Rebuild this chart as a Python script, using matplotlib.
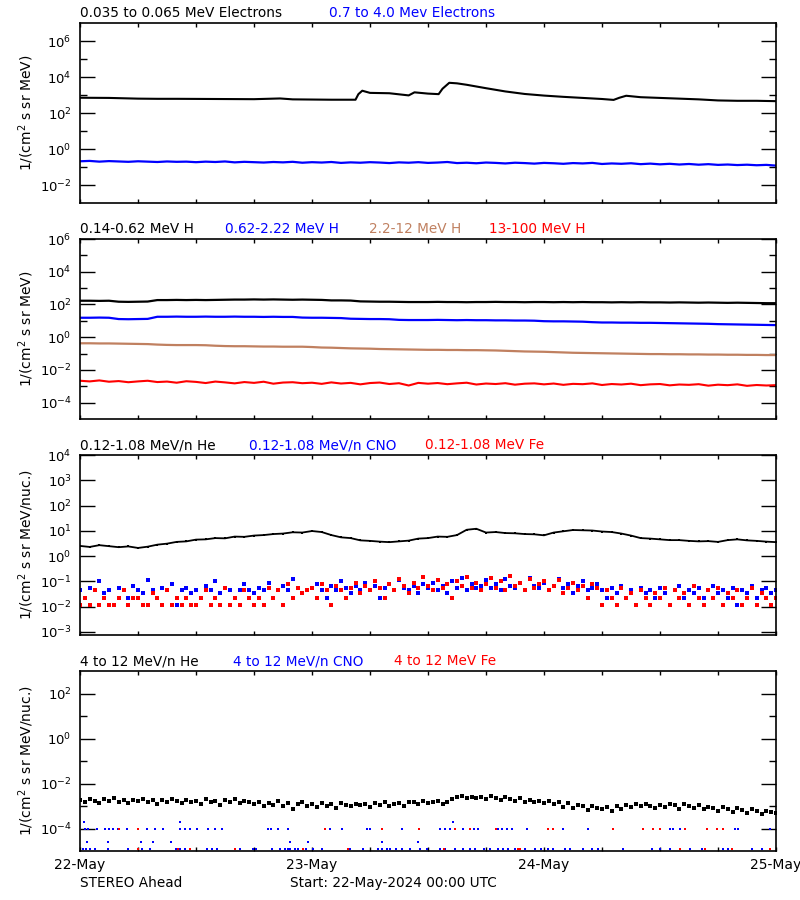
"""STEREO Ahead particle flux summary, 22-25 May 2024 (recreated)."""

import matplotlib
matplotlib.use("Agg")
import matplotlib.pyplot as plt
import numpy as np
from matplotlib.ticker import FixedLocator, NullFormatter, LogFormatterMathtext

plt.rcParams["font.family"] = ["DejaVu Sans"]
plt.rcParams["mathtext.default"] = "regular"

TAN = "#C08060"

# --- time axes (hours since 22-May 00:00 UTC) ---
hours = np.arange(0, 73)             # hourly samples
half_hours = np.arange(0, 72.5, 0.5)  # 30-minute samples
day_ticks = [0, 24, 48, 72]
day_labels = ["22-May", "23-May", "24-May", "25-May"]

# === Panel 1: electrons (log10 flux) ===
e_lo_hours = [0, 3, 6, 8, 10, 14, 18, 20.7, 22, 26, 28.5, 28.8, 29.2, 30, 32, 34,
              34.6, 35.2, 36, 37.1, 37.5, 38.2, 39, 40, 42, 44, 46, 48, 50, 52, 54,
              55.2, 55.8, 56.5, 58, 60, 62, 64, 66, 68, 70, 72]
e_lo_log = [2.85, 2.84, 2.80, 2.79, 2.79, 2.78, 2.77, 2.81, 2.76, 2.74, 2.74, 3.05,
            3.24, 3.12, 3.10, 2.98, 3.15, 3.12, 3.08, 3.05, 3.35, 3.68, 3.65, 3.57,
            3.38, 3.20, 3.06, 2.97, 2.90, 2.84, 2.78, 2.73, 2.85, 2.96, 2.88, 2.84,
            2.80, 2.76, 2.70, 2.68, 2.68, 2.66]
e_hi_log = [-0.68, -0.66, -0.70, -0.67, -0.69, -0.71, -0.68, -0.70, -0.72, -0.69, -0.71, -0.70,
            -0.73, -0.70, -0.72, -0.69, -0.74, -0.71, -0.73, -0.75, -0.72, -0.74, -0.71, -0.76,
            -0.73, -0.75, -0.72, -0.77, -0.74, -0.76, -0.73, -0.75, -0.78, -0.74, -0.76, -0.73,
            -0.77, -0.75, -0.72, -0.78, -0.76, -0.79, -0.75, -0.77, -0.80, -0.76, -0.78, -0.81,
            -0.77, -0.79, -0.82, -0.78, -0.80, -0.77, -0.83, -0.80, -0.82, -0.79, -0.84, -0.81,
            -0.85, -0.82, -0.86, -0.83, -0.87, -0.84, -0.88, -0.86, -0.89, -0.87, -0.90, -0.88,
            -0.92]

# === Panel 2: protons (log10 flux, hourly) ===
h1_log = [2.23, 2.23, 2.22, 2.23, 2.17, 2.16, 2.17, 2.18, 2.27, 2.27, 2.28, 2.27,
          2.28, 2.27, 2.28, 2.29, 2.30, 2.30, 2.31, 2.30, 2.31, 2.30, 2.29, 2.30,
          2.29, 2.28, 2.25, 2.25, 2.24, 2.19, 2.18, 2.17, 2.17, 2.16, 2.15, 2.15,
          2.15, 2.16, 2.15, 2.15, 2.14, 2.15, 2.15, 2.16, 2.15, 2.15, 2.14, 2.15,
          2.15, 2.14, 2.15, 2.14, 2.15, 2.14, 2.14, 2.13, 2.14, 2.13, 2.14, 2.13,
          2.13, 2.12, 2.13, 2.12, 2.11, 2.12, 2.11, 2.10, 2.11, 2.10, 2.09, 2.08,
          2.08]
h2_log = [1.19, 1.19, 1.20, 1.19, 1.11, 1.10, 1.11, 1.12, 1.25, 1.25, 1.26, 1.25,
          1.25, 1.26, 1.25, 1.25, 1.26, 1.25, 1.25, 1.24, 1.25, 1.24, 1.24, 1.20,
          1.19, 1.19, 1.18, 1.17, 1.13, 1.12, 1.11, 1.11, 1.10, 1.06, 1.05, 1.05,
          1.05, 1.06, 1.05, 1.04, 1.05, 1.04, 1.04, 1.03, 1.03, 1.02, 1.02, 1.01,
          0.98, 0.97, 0.97, 0.96, 0.95, 0.92, 0.90, 0.90, 0.89, 0.89, 0.88, 0.88,
          0.87, 0.86, 0.85, 0.84, 0.83, 0.82, 0.80, 0.79, 0.78, 0.77, 0.76, 0.75,
          0.74]
h3_log = [-0.37, -0.37, -0.38, -0.38, -0.39, -0.40, -0.41, -0.42, -0.45, -0.47, -0.48, -0.48,
          -0.48, -0.49, -0.52, -0.54, -0.55, -0.55, -0.56, -0.57, -0.57, -0.58, -0.58, -0.58,
          -0.60, -0.63, -0.64, -0.66, -0.68, -0.69, -0.70, -0.72, -0.73, -0.74, -0.75, -0.76,
          -0.77, -0.77, -0.78, -0.78, -0.79, -0.79, -0.80, -0.81, -0.83, -0.85, -0.87, -0.88,
          -0.89, -0.91, -0.93, -0.95, -0.96, -0.97, -0.98, -0.99, -1.00, -1.01, -1.02, -1.03,
          -1.03, -1.04, -1.04, -1.05, -1.05, -1.06, -1.06, -1.07, -1.07, -1.08, -1.08, -1.09,
          -1.09]
h4_log = [-2.66, -2.70, -2.64, -2.72, -2.68, -2.75, -2.70, -2.66, -2.74, -2.71, -2.78, -2.69,
          -2.73, -2.80, -2.71, -2.76, -2.82, -2.74, -2.79, -2.72, -2.84, -2.77, -2.75, -2.81,
          -2.78, -2.85, -2.76, -2.83, -2.79, -2.88, -2.80, -2.77, -2.86, -2.81, -2.95, -2.79,
          -2.84, -2.80, -2.87, -2.82, -2.78, -2.89, -2.83, -2.86, -2.81, -2.90, -2.84, -2.82,
          -2.88, -2.83, -2.91, -2.85, -2.87, -2.82, -2.92, -2.86, -2.89, -2.84, -2.93, -2.88,
          -2.86, -2.94, -2.89, -2.91, -2.87, -2.96, -2.90, -2.93, -2.88, -2.97, -2.92, -2.95,
          -2.93]

# === Panel 3: 0.12-1.08 MeV/n heavy ions ===
he_lo_log = [0.40, 0.36, 0.43, 0.39, 0.35, 0.38, 0.32, 0.37, 0.45, 0.49, 0.56, 0.58,
             0.65, 0.66, 0.71, 0.70, 0.77, 0.76, 0.81, 0.83, 0.87, 0.89, 0.94, 0.93,
             0.99, 0.95, 0.83, 0.74, 0.71, 0.62, 0.60, 0.57, 0.55, 0.58, 0.61, 0.69,
             0.71, 0.77, 0.76, 0.83, 1.04, 1.08, 0.93, 0.95, 0.91, 0.90, 0.87, 0.86,
             0.82, 0.93, 0.98, 1.03, 1.02, 1.01, 0.97, 0.95, 0.89, 0.81, 0.71, 0.69,
             0.66, 0.63, 0.63, 0.60, 0.58, 0.59, 0.56, 0.63, 0.66, 0.62, 0.60, 0.57,
             0.55]
# low-statistics channels: counts per 30-min sample, one count ~ 0.011 flux units
FLUX_PER_COUNT = 0.011
cno_lo_counts = [4, 2, 5, 4, 9, 3, 4, 1, 5, 4, 2, 6,
                 4, 3, 10, 4, 2, 5, 4, 7, 1, 4, 5, 3,
                 4, 2, 6, 4, 9, 3, 5, 4, 2, 4, 7, 4,
                 3, 5, 4, 8, 2, 4, 6, 4, 11, 5, 3, 4,
                 5, 7, 4, 2, 6, 4, 9, 5, 3, 6, 4, 8,
                 4, 6, 2, 5, 7, 4, 10, 5, 4, 6, 3, 7,
                 5, 8, 4, 6, 3, 9, 5, 12, 4, 7, 5, 6,
                 10, 5, 7, 4, 11, 6, 5, 8, 4, 12, 6, 5,
                 8, 4, 6, 11, 5, 7, 3, 6, 9, 4, 5, 7,
                 4, 2, 5, 3, 6, 2, 4, 1, 5, 3, 4, 2,
                 5, 3, 1, 4, 6, 2, 4, 3, 5, 2, 4, 6,
                 3, 4, 2, 5, 1, 4, 3, 6, 2, 4, 5, 3,
                 4]
fe_lo_counts = [1, 2, 1, 4, 1, 2, 1, 1, 2, 4, 1, 2,
                2, 1, 1, 3, 2, 1, 4, 1, 2, 1, 2, 1,
                1, 2, 4, 1, 2, 1, 5, 1, 2, 1, 4, 2,
                1, 2, 1, 5, 2, 4, 1, 7, 2, 5, 3, 4,
                5, 2, 7, 4, 1, 6, 4, 2, 5, 8, 3, 6,
                4, 9, 5, 2, 7, 4, 11, 6, 3, 8, 5, 14,
                6, 4, 10, 5, 7, 2, 9, 6, 13, 5, 8, 4,
                7, 12, 5, 9, 4, 15, 6, 8, 4, 11, 5, 7,
                9, 4, 6, 10, 3, 5, 8, 4, 6, 2, 7, 5,
                1, 4, 2, 1, 5, 2, 3, 1, 4, 2, 1, 3,
                2, 5, 1, 4, 2, 3, 1, 6, 2, 1, 4, 2,
                5, 1, 3, 2, 4, 1, 2, 5, 1, 3, 2, 1,
                2]

# === Panel 4: 4-12 MeV/n heavy ions ===
he_hi_log = [-2.72, -2.80, -2.68, -2.76, -2.85, -2.70, -2.78, -2.66, -2.82, -2.74, -2.88, -2.71,
             -2.79, -2.69, -2.84, -2.75, -2.92, -2.73, -2.81, -2.67, -2.78, -2.86, -2.72, -2.80,
             -2.76, -2.90, -2.70, -2.83, -2.77, -2.95, -2.74, -2.82, -2.69, -2.87, -2.79, -2.84,
             -2.92, -2.80, -3.02, -2.86, -2.95, -2.78, -2.99, -2.88, -3.15, -2.90, -2.84, -3.00,
             -2.93, -3.05, -2.87, -2.98, -2.91, -3.10, -2.85, -2.96, -3.02, -2.89, -2.97, -2.92,
             -3.04, -2.88, -2.95, -2.83, -2.99, -2.90, -2.86, -3.01, -2.84, -2.80, -2.93, -2.78,
             -2.85, -2.81, -2.76, -2.89, -2.83, -2.70, -2.62, -2.55, -2.66, -2.58, -2.64, -2.60,
             -2.68, -2.57, -2.63, -2.72, -2.61, -2.69, -2.76, -2.66, -2.80, -2.73, -2.84, -2.78,
             -2.86, -2.79, -2.92, -2.83, -3.05, -2.88, -3.10, -2.96, -3.02, -3.18, -2.99, -3.08,
             -3.15, -3.04, -3.22, -3.00, -3.12, -2.96, -3.06, -2.92, -3.01, -2.90, -2.98, -3.08,
             -2.94, -3.03, -2.89, -2.97, -3.12, -2.93, -3.00, -3.08, -2.95, -3.15, -3.04, -3.10,
             -3.20, -3.06, -3.14, -3.25, -3.09, -3.18, -3.30, -3.12, -3.22, -3.35, -3.20, -3.28,
             -3.30]
# sparse single-count detections: times (h) at each flux level
cno_hi_1e4_hours = [0.5, 0.8, 1.8, 2.6, 3.0, 3.4, 3.9, 4.9, 6.9, 7.8, 8.6, 10.3, 10.9, 11.4,
                    12.1, 13.2, 14.0, 14.7, 19.4, 19.8, 20.5, 21.5, 25.9, 27.1, 29.7, 30.0,
                    33.3, 37.2, 37.8, 38.3, 39.6, 40.8, 41.2, 43.2, 43.7, 44.2, 44.7, 46.2,
                    50.0, 52.5, 58.2, 59.3, 60.0, 61.0, 61.3, 62.1, 67.8, 68.1, 71.4]
cno_hi_2e4_hours = [0.4, 10.3, 38.6]
cno_hi_2e5_hours = [0.7, 2.9, 6.3, 7.6, 9.4, 21.7, 23.6, 31.2, 35.0]
cno_hi_floor_hours = [0.3, 0.6, 1.0, 1.6, 2.9, 5.0, 6.4, 7.2, 9.9, 10.3, 10.9, 11.4, 13.1, 13.7,
                      14.2, 16.6, 17.9, 18.2, 19.9, 20.7, 21.2, 21.5, 21.7, 22.2, 22.5, 23.4,
                      24.1, 25.0, 27.9, 29.3, 30.8, 31.2, 31.8, 32.1, 32.7, 33.3, 34.1, 35.2,
                      35.9, 37.2, 37.8, 38.8, 39.6, 40.3, 40.9, 41.8, 42.4, 43.2, 43.8, 44.3,
                      45.0, 45.5, 46.0, 47.1, 47.7, 48.4, 48.9, 50.2, 50.7, 52.0, 53.0, 53.6,
                      56.2, 59.2, 60.0, 61.0, 63.1, 64.3, 66.5, 67.0, 69.5, 70.6]
fe_hi_1e4_hours = [4.0, 6.0, 25.3, 31.2, 35.1, 38.8, 40.3, 43.0, 48.4, 48.9, 55.1, 58.2,
                   59.3, 60.0, 62.6, 64.9, 65.9, 66.5]
fe_hi_floor_hours = [6.0, 10.1, 11.4, 16.0, 23.1, 27.7, 37.7, 45.3, 45.5, 62.1, 64.7,
                     67.4, 71.4]
LEVEL_1E4 = 1.0e-4
LEVEL_2E4 = 2.0e-4
LEVEL_2E5 = 2.5e-5
LEVEL_FLOOR = 1.2e-5

# === Layout: 4 stacked log panels ===
fig = plt.figure(figsize=(8, 9), dpi=100)
LEFT, WIDTH, HEIGHT = 0.1, 0.87, 0.2
bottoms = [0.7744, 0.5344, 0.2944, 0.0544]
axes = [fig.add_axes([LEFT, b, WIDTH, HEIGHT]) for b in bottoms]


def setup_axis(ax, ylim, major_exps, minor_exps, ylabel, last=False):
    ax.set_yscale("log")
    ax.set_ylim(*ylim)
    ax.set_xlim(0, 72)
    ax.yaxis.set_major_locator(FixedLocator([10.0 ** e for e in major_exps]))
    ax.yaxis.set_minor_locator(FixedLocator([10.0 ** e for e in minor_exps]))
    ax.yaxis.set_major_formatter(LogFormatterMathtext())
    ax.yaxis.set_minor_formatter(NullFormatter())
    ax.set_xticks(day_ticks)
    ax.set_xticks(np.arange(0, 73, 6), minor=True)
    if last:
        ax.set_xticklabels(day_labels, fontsize=10)
    else:
        ax.set_xticklabels([])
    ax.tick_params(axis="y", which="major", direction="in", length=10.5, width=1,
                   right=True, labelsize=9.5, pad=6)
    ax.tick_params(axis="y", which="minor", direction="in", length=5, width=1, right=True)
    ax.tick_params(axis="x", which="both", direction="in", length=3, width=1,
                   top=True, pad=5)
    for s in ax.spines.values():
        s.set_linewidth(1.2)
    ax.set_ylabel(ylabel, fontsize=10)
    ax.yaxis.set_label_coords(-44 / 696, 0.5)


def add_titles(ax, items):
    for x_px, text, color in items:
        ax.text((x_px - 80) / 696, 1.055, text, color=color, fontsize=9.8,
                ha="left", va="center", transform=ax.transAxes)


# Panel 1
ax = axes[0]
ax.plot(e_lo_hours, 10.0 ** np.array(e_lo_log), color="black", lw=1.5)
ax.plot(hours, 10.0 ** np.array(e_hi_log), color="blue", lw=1.6)
setup_axis(ax, (1e-3, 1e7), [-2, 0, 2, 4, 6], [-1, 1, 3, 5], "1/(cm$^2$ s sr MeV)")
add_titles(ax, [(80, "0.035 to 0.065 MeV Electrons", "black"),
                (329, "0.7 to 4.0 Mev Electrons", "blue")])

# Panel 2
ax = axes[1]
ax.plot(hours, 10.0 ** np.array(h1_log), color="black", lw=1.6)
ax.plot(hours, 10.0 ** np.array(h2_log), color="blue", lw=1.6)
ax.plot(hours, 10.0 ** np.array(h3_log), color=TAN, lw=1.6)
ax.plot(hours, 10.0 ** np.array(h4_log), color="red", lw=1.5)
setup_axis(ax, (1e-5, 1e6), [-4, -2, 0, 2, 4, 6], [-3, -1, 1, 3, 5], "1/(cm$^2$ s sr MeV)")
add_titles(ax, [(80, "0.14-0.62 MeV H", "black"),
                (225, "0.62-2.22 MeV H", "blue"),
                (369, "2.2-12 MeV H", TAN),
                (489, "13-100 MeV H", "red")])

# Panel 3
ax = axes[2]
ax.plot(hours, 10.0 ** np.array(he_lo_log), color="black", lw=1.3,
        marker="s", ms=1.8, mew=0)
ax.plot(half_hours, np.array(cno_lo_counts) * FLUX_PER_COUNT, ls="none",
        marker="s", ms=2.6, mew=0, color="blue")
ax.plot(half_hours, np.array(fe_lo_counts) * FLUX_PER_COUNT, ls="none",
        marker="s", ms=2.6, mew=0, color="red")
setup_axis(ax, (10 ** -3.13, 1e4), [-3, -2, -1, 0, 1, 2, 3, 4], [],
           "1/(cm$^2$ s sr MeV/nuc.)")
add_titles(ax, [(80, "0.12-1.08 MeV/n He", "black"),
                (249, "0.12-1.08 MeV/n CNO", "blue"),
                (425, "0.12-1.08 MeV Fe", "red")])

# Panel 4
ax = axes[3]
ax.plot(half_hours, 10.0 ** np.array(he_hi_log), ls="none", marker="s", ms=2.2,
        mew=0, color="black")
for times, level in [(cno_hi_1e4_hours, LEVEL_1E4), (cno_hi_2e4_hours, LEVEL_2E4),
                     (cno_hi_2e5_hours, LEVEL_2E5), (cno_hi_floor_hours, LEVEL_FLOOR)]:
    ax.plot(times, [level] * len(times), ls="none", marker="s", ms=2.0, mew=0, color="blue")
for times, level in [(fe_hi_1e4_hours, LEVEL_1E4), (fe_hi_floor_hours, LEVEL_FLOOR)]:
    ax.plot(times, [level] * len(times), ls="none", marker="s", ms=2.0, mew=0, color="red")
setup_axis(ax, (1e-5, 1e3), [-4, -2, 0, 2], [-3, -1, 1], "1/(cm$^2$ s sr MeV/nuc.)",
           last=True)
add_titles(ax, [(80, "4 to 12 MeV/n He", "black"),
                (233, "4 to 12 MeV/n CNO", "blue"),
                (394, "4 to 12 MeV Fe", "red")])

fig.text(80 / 800, 1 - 883 / 900, "STEREO Ahead", fontsize=9.8, ha="left", va="center")
fig.text(290 / 800, 1 - 883 / 900, "Start: 22-May-2024 00:00 UTC", fontsize=9.8,
         ha="left", va="center")

fig.savefig("out.png", dpi=100)
print("Saved out.png")
